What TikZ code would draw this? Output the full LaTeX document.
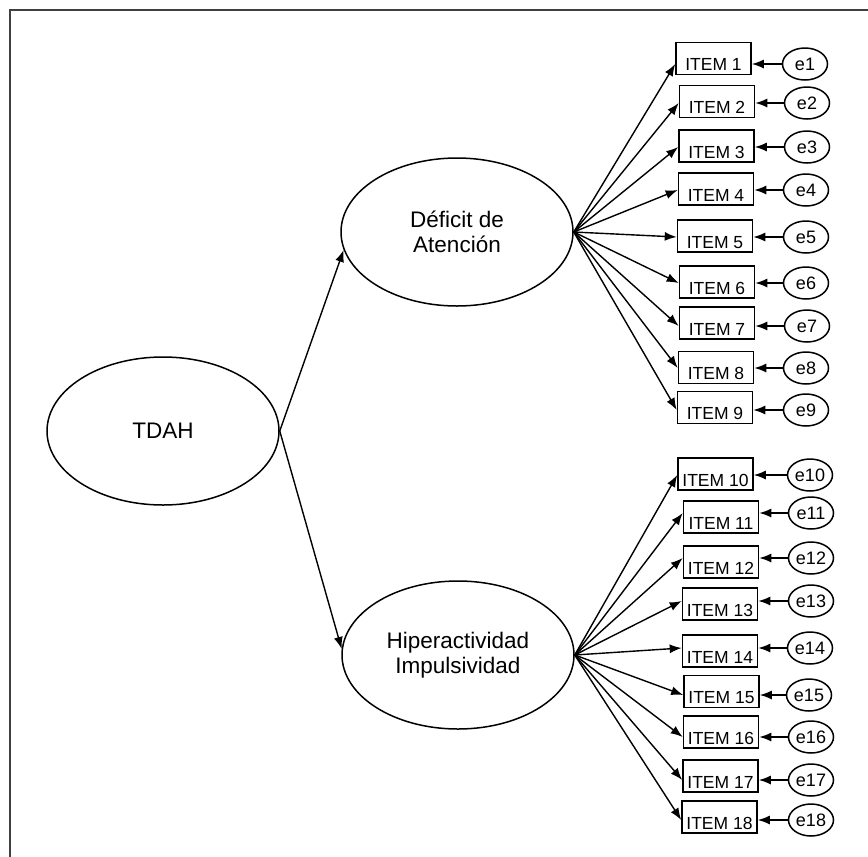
\documentclass[tikz,border=0pt]{standalone}
\usepackage{fontspec}
\setmainfont{Liberation Sans}
\usetikzlibrary{shapes.geometric,arrows.meta}

\begin{document}
\begin{tikzpicture}[x=1pt,y=-1pt,
    latent/.style={draw,ellipse,line width=1.5pt,minimum width=232pt,minimum height=148pt,
      inner sep=0pt,align=center,font=\fontsize{22.5}{25}\selectfont},
    itembox/.style={draw,rectangle,line width=1.6pt,minimum width=75pt,inner xsep=0pt,
      inner ysep=2pt,text height=26pt,text depth=2pt,font=\fontsize{17.5}{18}\selectfont},
    errnode/.style={draw,ellipse,line width=1.5pt,minimum width=45pt,minimum height=32pt,
      inner sep=0pt,font=\fontsize{18}{18}\selectfont},
    load/.style={-{Latex[length=12pt,width=9pt]},line width=1.4pt}]
  \useasboundingbox (0,0) rectangle (868,857);
  % frame
  \draw[line width=1.8pt,black!75] (10,857) -- (10,10) -- (868,10);

  % latent variables
  \node[latent] (tdah) at (163,431) {TDAH};
  \node[latent] (dfa) at (457,232) {D\'eficit de\\Atenci\'on};
  \node[latent] (hia) at (458,655) {Hiperactividad\\Impulsividad};

  \draw[load] (tdah.east) -- (dfa.189);
  \draw[load] (tdah.east) -- (hia.177);

  % items and errors
  \foreach \n/\cx/\cy/\ex/\ey/\f in {
      1/713.5/58.5/805/64/dfa, 2/717/101.5/807/103/dfa, 3/716.5/146/807/147/dfa,
      4/716/189/806/190/dfa, 5/715/236/806/237/dfa, 6/717/282/806/283/dfa,
      7/717/323/807/326/dfa, 8/716/367.5/806/368/dfa, 9/715/407.5/806/410/dfa,
      10/715.5/474/810/475/hia, 11/721/517/811/513/hia, 12/721/562/811/558/hia,
      13/720/604/811/601/hia, 14/720/651/810/648/hia, 15/721.5/691.5/809/695/hia,
      16/721/732/811/737/hia, 17/720.5/776/811/780/hia, 18/719.5/817/811/820/hia}{
    \node[itembox] (i\n) at (\cx,\cy) {ITEM \n};
    \node[errnode] (e\n) at (\ex,\ey) {e\n};
    \draw[load] (\f.east) -- (i\n.west |- e\n.center);
    \draw[load] (e\n.west) -- (i\n.east |- e\n.center);
  }
\end{tikzpicture}
\end{document}
